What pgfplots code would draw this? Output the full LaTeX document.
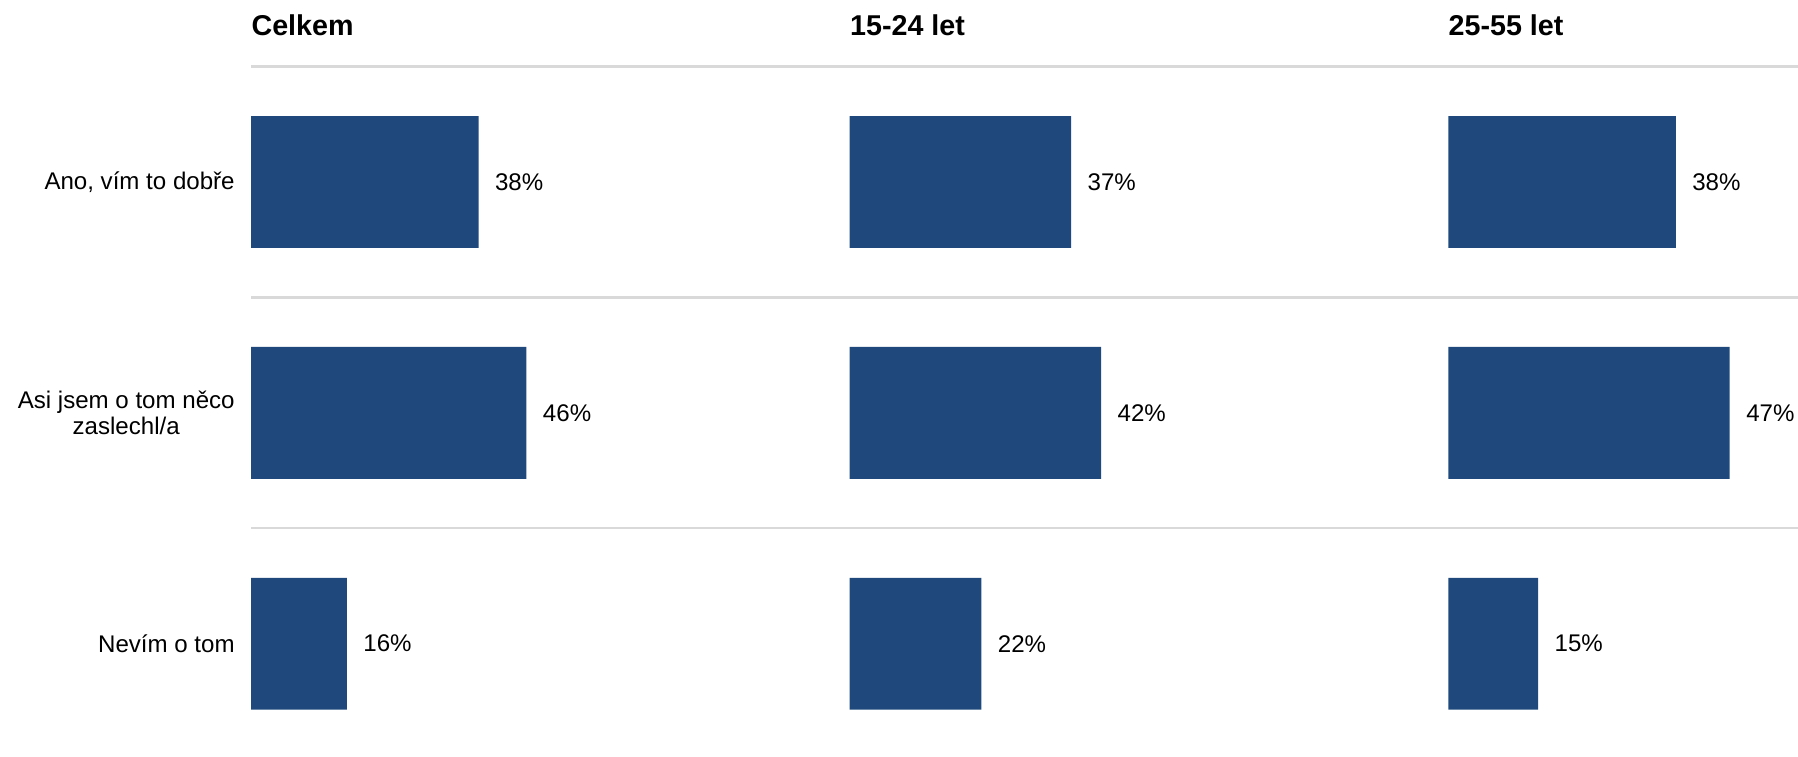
\documentclass[border=0pt]{standalone}
\usepackage{pgfplots}
\pgfplotsset{compat=1.18}
\usepackage{fontspec}
\setmainfont{Liberation Sans}
\definecolor{barblue}{HTML}{1F497D}
\definecolor{gridgray}{HTML}{D9D9D9}
\tikzset{ptitle/.style={anchor=base west, inner sep=0pt, font=\bfseries\fontsize{12.5}{14}\selectfont}}
\pgfplotsset{
  panel/.style={
    xbar, bar width=57.5pt,
    height=302pt, scale only axis,
    xmin=0, ymin=-0.5, ymax=2.5, y dir=reverse,
    ytick={0,1,2}, minor ytick={-0.5,0.5,1.5},
    yminorgrids, ymajorgrids=false,
    minor grid style={gridgray, line width=1pt},
    axis line style={draw=none},
    xtick=\empty,
    tick style={draw=none}, major tick length=0pt, minor tick length=0pt,
    /pgf/number format/assume math mode=true,
    nodes near coords={\pgfmathprintnumber{\pgfplotspointmeta}\%},
    nodes near coords style={anchor=west, inner sep=0pt, xshift=7pt, font=\fontsize{10.5}{12}\selectfont, text=black},
    clip=false,
  },
}
\begin{document}
\begin{tikzpicture}
\begin{axis}[panel, at={(0pt,0pt)}, anchor=south west, width=261pt, xmax=100,
  yticklabels={{Ano, vím to dobře},{Asi jsem o tom něco\\zaslechl/a},{Nevím o tom}},
  yticklabel style={align=center, inner sep=0pt, xshift=-7pt, font=\fontsize{10.5}{11}\selectfont}]
\addplot[fill=barblue, draw=none] coordinates {(38,0) (46,1) (16,2)};
\node[ptitle] at (rel axis cs:0,1) [yshift=13.5pt] {Celkem};
\end{axis}
\begin{axis}[panel, at={(261pt,0pt)}, anchor=south west, width=261pt, xmax=100, yticklabels={}]
\addplot[fill=barblue, draw=none] coordinates {(37,0) (42,1) (22,2)};
\node[ptitle] at (rel axis cs:0,1) [yshift=13.5pt] {15-24 let};
\end{axis}
\begin{axis}[panel, at={(522pt,0pt)}, anchor=south west, width=152.5pt, xmax=58.4, yticklabels={}]
\addplot[fill=barblue, draw=none] coordinates {(38,0) (47,1) (15,2)};
\node[ptitle] at (rel axis cs:0,1) [yshift=13.5pt] {25-55 let};
\end{axis}
\pgfresetboundingbox
\useasboundingbox (-109.5pt,1pt) rectangle (674.5pt,331pt);
\end{tikzpicture}
\end{document}
